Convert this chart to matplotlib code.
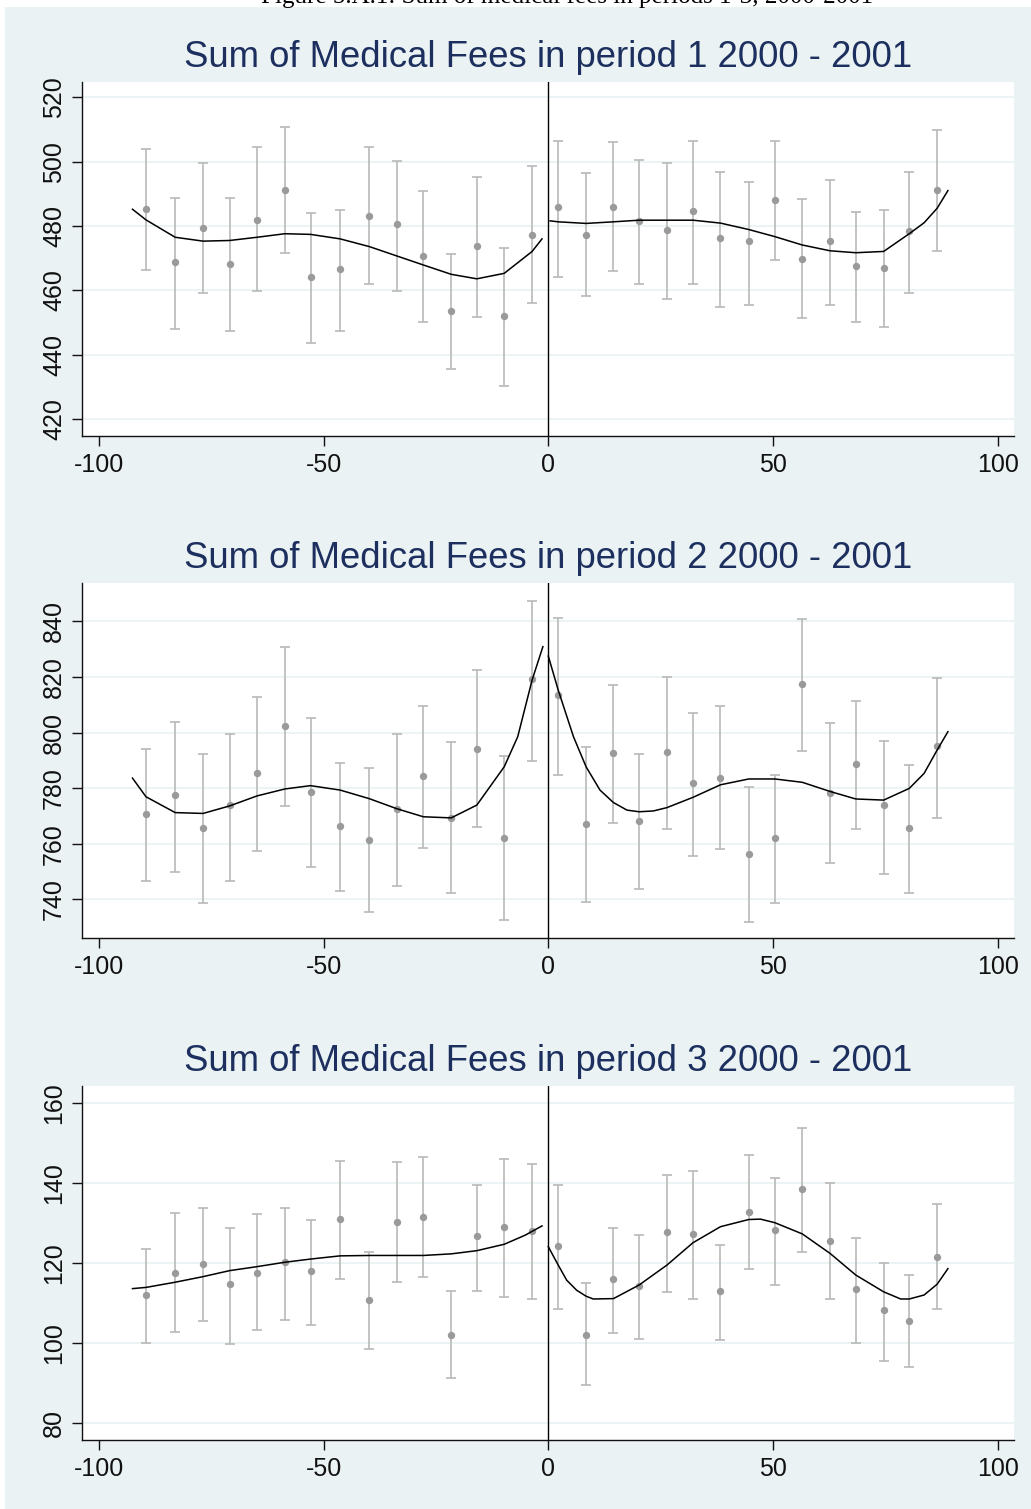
import matplotlib
matplotlib.use('Agg')
import matplotlib.pyplot as plt
from matplotlib.patches import Rectangle

plt.rcParams['font.family'] = ['Liberation Sans', 'DejaVu Sans']
plt.rcParams['axes.unicode_minus'] = False

CAPTION = 'Figure 5.A.1: Sum of medical fees in periods 1-3, 2000-2001'
TITLES = ['Sum of Medical Fees in period 1 2000 - 2001',
          'Sum of Medical Fees in period 2 2000 - 2001',
          'Sum of Medical Fees in period 3 2000 - 2001']

# bin centres of the running variable (15 left of the cutoff, 15 right)
bins = [-89.5, -83.0, -76.8, -70.9, -64.8, -58.6, -52.9, -46.3, -39.8, -33.7,
        -27.8, -21.6, -15.9, -9.8, -3.6,
        2.2, 8.4, 14.5, 20.2, 26.4, 32.2, 38.3, 44.6, 50.4, 56.5,
        62.7, 68.4, 74.6, 80.3, 86.5]

# period 1: bin means and confidence bounds
p1_mean = [485.2, 468.7, 479.3, 468.1, 482.0, 491.1, 464.3, 466.5, 483.1, 480.5,
           470.7, 453.6, 473.9, 452.0, 477.2,
           485.8, 477.2, 485.8, 481.4, 478.9, 484.8, 476.2, 475.2, 488.0, 469.7,
           475.2, 467.5, 467.0, 478.3, 491.2]
p1_hi = [503.9, 488.8, 499.5, 488.8, 504.4, 510.8, 484.0, 485.0, 504.4, 500.1,
         490.9, 471.2, 495.3, 473.2, 498.5,
         506.5, 496.3, 506.0, 500.6, 499.6, 506.5, 496.9, 493.6, 506.5, 488.3,
         494.2, 484.5, 485.0, 496.8, 509.8]
p1_lo = [466.3, 448.1, 459.3, 447.4, 459.9, 471.7, 443.7, 447.4, 461.9, 459.9,
         450.1, 435.6, 451.8, 430.2, 456.0,
         464.1, 458.2, 465.9, 461.9, 457.2, 461.9, 455.0, 455.5, 469.4, 451.3,
         455.5, 450.1, 448.6, 459.2, 472.1]

# period 2
p2_mean = [770.6, 777.4, 765.7, 773.9, 785.6, 802.4, 778.7, 766.3, 761.3, 772.5,
           784.2, 769.4, 794.2, 761.9, 819.1,
           813.5, 767.0, 792.5, 768.2, 793.1, 781.8, 783.8, 756.3, 761.9, 817.3,
           778.1, 788.7, 773.8, 765.7, 795.3]
p2_hi = [794.0, 803.9, 792.3, 799.6, 812.7, 830.8, 805.2, 789.0, 787.1, 799.6,
         809.4, 796.5, 822.6, 791.6, 847.4,
         841.3, 794.7, 817.1, 792.3, 820.1, 807.0, 809.5, 780.3, 784.6, 840.7,
         803.3, 811.5, 797.1, 788.4, 819.5]
p2_lo = [746.7, 749.8, 738.7, 746.7, 757.4, 773.5, 751.7, 742.9, 735.6, 744.9,
         758.6, 742.4, 766.0, 732.4, 789.6,
         784.6, 739.2, 767.3, 743.6, 765.4, 755.5, 758.0, 731.8, 738.7, 793.4,
         753.0, 765.4, 749.2, 742.4, 769.1]

# period 3
p3_mean = [112.0, 117.6, 119.8, 114.7, 117.6, 120.3, 118.1, 131.1, 110.7, 130.2,
           131.5, 102.0, 126.8, 128.9, 128.1,
           124.2, 102.1, 116.0, 114.3, 127.7, 127.3, 113.0, 132.8, 128.2, 138.5,
           125.5, 113.4, 108.2, 105.6, 121.6]
p3_hi = [123.5, 132.6, 133.9, 128.8, 132.2, 133.9, 130.9, 145.6, 122.7, 145.2,
         146.5, 113.1, 139.5, 146.0, 144.7,
         139.6, 114.9, 128.8, 127.0, 142.1, 143.1, 124.4, 147.0, 141.3, 153.8,
         140.0, 126.2, 120.1, 117.1, 134.8]
p3_lo = [100.1, 102.8, 105.4, 99.8, 103.2, 105.8, 104.4, 116.1, 98.4, 115.3,
         116.6, 91.1, 113.1, 111.5, 111.0,
         108.4, 89.4, 102.4, 101.1, 112.8, 111.0, 100.7, 118.4, 114.6, 122.7,
         111.0, 100.1, 95.4, 94.1, 108.4]

# fitted curves (left and right of the cutoff)
p1_fit_lx = [-92.5, -89.5, -83.0, -76.8, -70.9, -64.8, -58.6, -52.9, -46.3, -39.8,
             -33.7, -27.8, -21.6, -15.9, -9.8, -3.6, -1.4]
p1_fit_ly = [485.2, 481.9, 476.5, 475.3, 475.5, 476.5, 477.6, 477.4, 476.0, 473.6,
             470.7, 467.9, 465.0, 463.6, 465.3, 472.1, 476.0]
p1_fit_rx = [0.4, 2.2, 8.4, 14.5, 20.2, 26.4, 32.2, 38.3, 44.6, 50.4, 56.5, 62.7,
             68.4, 74.6, 80.3, 83.6, 86.5, 88.9]
p1_fit_ry = [481.6, 481.3, 480.8, 481.3, 481.8, 481.8, 481.8, 480.9, 478.9, 476.7,
             474.1, 472.3, 471.7, 472.1, 477.6, 481.0, 485.5, 491.0]

p2_fit_lx = [-92.5, -89.5, -83.0, -76.8, -70.9, -64.8, -58.6, -52.9, -46.3, -39.8,
             -33.7, -27.8, -21.6, -15.9, -9.8, -6.8, -3.6, -1.2]
p2_fit_ly = [783.6, 776.9, 771.2, 770.9, 773.6, 777.2, 779.7, 780.9, 779.3, 776.2,
             772.6, 769.7, 769.3, 773.9, 787.7, 798.5, 818.9, 830.9]
p2_fit_rx = [0.0, 2.2, 5.6, 8.4, 11.5, 14.5, 17.5, 20.2, 23.4, 26.4, 32.2, 38.3,
             44.6, 50.4, 56.5, 62.7, 68.4, 74.6, 80.3, 83.6, 86.5, 88.9]
p2_fit_ry = [827.5, 815.3, 798.5, 787.7, 779.3, 774.8, 772.1, 771.5, 771.8, 773.0,
             776.7, 781.2, 783.3, 783.3, 782.1, 778.8, 776.1, 775.7, 779.9, 785.3,
             793.7, 800.3]

p3_fit_lx = [-92.5, -89.5, -83.0, -76.8, -70.9, -64.8, -58.6, -52.9, -46.3, -39.8,
             -33.7, -27.8, -21.6, -15.9, -9.8, -5.1, -1.4]
p3_fit_ly = [113.6, 113.9, 115.2, 116.6, 118.1, 119.1, 120.2, 121.0, 121.8, 121.9,
             121.9, 121.9, 122.3, 123.1, 124.7, 127.0, 129.3]
p3_fit_rx = [0.0, 2.2, 4.1, 6.3, 8.4, 10.0, 14.5, 20.2, 26.4, 32.2, 38.3, 44.6,
             47.2, 50.4, 56.5, 62.7, 68.4, 74.6, 78.4, 80.3, 83.6, 86.5, 88.9]
p3_fit_ry = [124.1, 119.5, 115.7, 113.2, 111.7, 111.0, 111.1, 114.5, 119.5, 125.1,
             129.1, 130.9, 131.0, 130.1, 127.3, 122.4, 117.0, 112.8, 111.0, 111.0,
             112.0, 114.7, 118.6]

x_ticks = [-100, -50, 0, 50, 100]
p1_yticks = [420, 440, 460, 480, 500, 520]
p2_yticks = [740, 760, 780, 800, 820, 840]
p3_yticks = [80, 100, 120, 140, 160]

BG = '#eaf2f3'
W, H = 1031, 1509


def draw_panel(ax, title, mean, hi, lo, fit, ylim, yticks):
    yerr = [[m - l for m, l in zip(mean, lo)], [h - m for m, h in zip(mean, hi)]]
    ax.errorbar(bins, mean, yerr=yerr, fmt='o', color='#9a9a9a', ms=4.3,
                ecolor='#b9b9b9', elinewidth=1.2, capsize=3.8, capthick=1.2,
                zorder=3)
    lx, ly, rx, ry = fit
    ax.plot(lx, ly, color='black', lw=1.1, zorder=4)
    ax.plot(rx, ry, color='black', lw=1.1, zorder=4)
    ax.axvline(0, color='black', lw=1.0, zorder=5)

    ax.set_xlim(-103.8, 103.6)
    ax.set_ylim(*ylim)
    ax.set_xticks(x_ticks)
    ax.set_yticks(yticks)
    ax.yaxis.grid(True, color=BG, lw=1.3)
    ax.set_axisbelow(True)
    for side in ['top', 'right']:
        ax.spines[side].set_visible(False)
    for side in ['left', 'bottom']:
        ax.spines[side].set_linewidth(1.0)
        ax.spines[side].set_color('#111111')
    ax.tick_params(direction='out', length=7.2, width=1.0, labelsize=18,
                   colors='#111111')
    ax.tick_params(axis='x', pad=5)
    ax.tick_params(axis='y', pad=4)
    plt.setp(ax.get_yticklabels(), rotation=90, va='center')
    ax.set_title(title, fontsize=26.3, color='#1c2f5e', pad=10.5)


fig = plt.figure(figsize=(W / 100, H / 100), dpi=100)
fig.add_artist(Rectangle((5 / W, 0), 1, 1 - 7 / H, transform=fig.transFigure,
                         facecolor=BG, edgecolor='none', zorder=-1))
# caption sits at the very top edge, as in the source page
fig.text(567 / W, 1 - 2.5 / H, CAPTION, ha='center', va='baseline',
         family='Liberation Serif', fontsize=18, color='black')

left = 81.7 / W
width = (1014 - 81.7) / W
# (top, bottom) of each plot area in pixels
rows = [(81.7, 436.0), (582.7, 937.7), (1085.7, 1440.0)]

panels = [
    (p1_mean, p1_hi, p1_lo, (p1_fit_lx, p1_fit_ly, p1_fit_rx, p1_fit_ry),
     (414.8, 524.8), p1_yticks),
    (p2_mean, p2_hi, p2_lo, (p2_fit_lx, p2_fit_ly, p2_fit_rx, p2_fit_ry),
     (726.2, 853.9), p2_yticks),
    (p3_mean, p3_hi, p3_lo, (p3_fit_lx, p3_fit_ly, p3_fit_rx, p3_fit_ry),
     (75.7, 164.4), p3_yticks),
]

for (top, bottom), title, panel in zip(rows, TITLES, panels):
    ax = fig.add_axes([left, 1 - bottom / H, width, (bottom - top) / H])
    ax.set_facecolor('white')
    draw_panel(ax, title, *panel)

fig.savefig('out.png', dpi=100)
